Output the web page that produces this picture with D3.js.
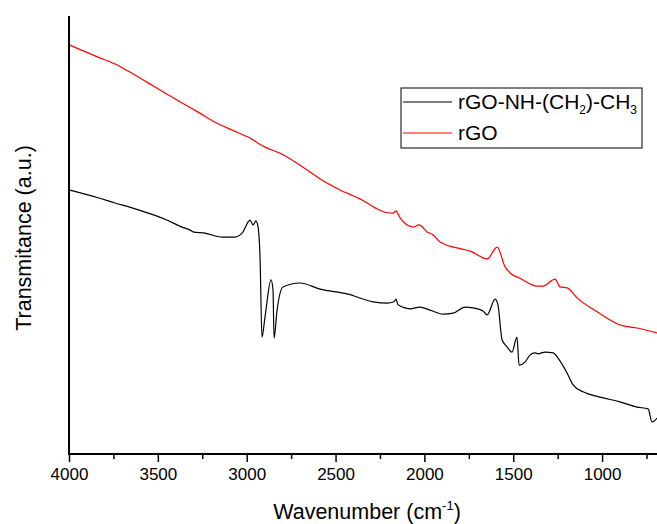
<!DOCTYPE html>
<html><head><meta charset="utf-8">
<script src="https://cdn.jsdelivr.net/npm/d3@7"></script>
<style>body{margin:0;background:#fff}svg{display:block}text{font-family:"Liberation Sans",Arial,sans-serif}</style>
</head><body><svg id="c" width="657" height="524"></svg>
<script>
const xTicks = [4000, 3500, 3000, 2500, 2000, 1500, 1000];
const xMinorTicks = [3750, 3250, 2750, 2250, 1750, 1250, 750];
const seriesNames = ["rGO-NH-(CH2)-CH3", "rGO"];
const seriesColors = ["#000000", "#ff0000"];

const rGOWave = [4000,3837,3741,3668,3555,3460,3364,3274,3178,3083,2993,2897,2812,2683,2587,2475,2351,2278,2222,2177,2160,2137,2064,2030,1985,1951,1912,1771,1743,1647,1591,1546,1518,1462,1366,1332,1265,1237,1197,1141,1028,899,803,691];
const rGOVal  = [93.4,90.6,89.0,87.4,84.7,82.4,80.1,78.0,75.7,73.9,72.3,70.0,68.6,65.4,62.7,60.2,57.9,56.1,55.1,54.9,55.4,53.8,51.7,52.2,50.6,49.9,48.3,46.5,46.2,44.4,47.1,42.6,41.2,40.0,38.2,38.2,39.8,38.0,37.8,35.5,32.3,29.3,28.6,27.5];

const amineWave = [4000,3837,3741,3645,3555,3460,3364,3319,3302,3235,3139,3066,3026,2981,2964,2948,2936,2925,2914,2897,2863,2852,2846,2829,2796,2700,2587,2435,2289,2210,2171,2160,2148,2081,2025,1968,1895,1839,1771,1726,1670,1647,1602,1586,1563,1535,1507,1479,1467,1434,1406,1377,1360,1321,1276,1248,1197,1163,1107,1012,899,803,741,719,691];
const amineVal  = [60.2,58.4,57.2,56.1,54.9,53.5,51.7,51.0,50.6,50.3,49.4,49.4,50.3,53.3,52.2,53.1,51.7,44.9,26.5,31.1,39.6,37.3,26.3,32.7,38.0,38.9,37.5,36.4,34.6,34.3,34.6,35.2,33.9,33.0,33.4,32.7,31.8,32.0,33.4,33.2,32.5,31.6,35.2,33.9,25.9,24.3,23.1,26.5,20.1,20.8,22.4,22.9,22.7,23.1,22.9,21.7,18.3,15.6,14.0,12.8,11.7,10.5,10.1,7.1,8.0];

const svg = d3.select("#c");
const L = 69, R = 657, T = 16, B = 454;
const x = d3.scaleLinear().domain([4000, 691]).range([L, R]);
const y = d3.scaleLinear().domain([0, 100]).range([453, T]);

const mk = (w, v) => w.map((d, i) => [d, v[i]]);
const series = [mk(amineWave, amineVal), mk(rGOWave, rGOVal)];
const line = d3.line().x(d => x(d[0])).y(d => y(d[1])).curve(d3.curveMonotoneX);

series.forEach((s, i) => {
  svg.append("path").attr("d", line(s)).attr("fill", "none")
    .attr("stroke", seriesColors[i]).attr("stroke-width", 1.2).attr("stroke-linejoin", "round");
});

// x axis
const gx = svg.append("g").attr("transform", `translate(0,${B})`);
gx.call(d3.axisBottom(x).tickValues(xTicks).tickSize(8).tickSizeOuter(0).tickPadding(6).tickFormat(d3.format("d")));
gx.select(".domain").remove();
gx.selectAll(".tick line").attr("stroke", "#000").attr("stroke-width", 1.5);
gx.selectAll(".tick text").attr("font-size", 17).attr("fill", "#000")
  .attr("font-family", '"Liberation Sans",Arial,sans-serif');
gx.append("g").call(d3.axisBottom(x).tickValues(xMinorTicks).tickSize(5).tickFormat(""))
  .call(g => { g.select(".domain").remove(); g.selectAll("line").attr("stroke", "#000").attr("stroke-width", 1.5); });
svg.append("line").attr("x1", L).attr("x2", R).attr("y1", B).attr("y2", B).attr("stroke", "#000").attr("stroke-width", 2);
svg.append("line").attr("x1", L).attr("x2", L).attr("y1", T).attr("y2", B + 1).attr("stroke", "#000").attr("stroke-width", 2);

// titles
const xt = svg.append("text").attr("x", 367).attr("y", 519).attr("text-anchor", "middle").attr("font-size", 21.5);
xt.append("tspan").text("Wavenumber (cm");
xt.append("tspan").attr("font-size", 13).attr("dy", -9).text("-1");
xt.append("tspan").attr("dy", 9).text(")");
svg.append("text").attr("transform", "translate(31,238) rotate(-90)").attr("text-anchor", "middle")
  .attr("font-size", 21.5).text("Transmitance (a.u.)");

// legend
const lg = svg.append("g");
lg.append("rect").attr("x", 401).attr("y", 88).attr("width", 241).attr("height", 60)
  .attr("fill", "#fff").attr("stroke", "#000").attr("stroke-width", 1);
const rows = [102, 133];
rows.forEach((ry, i) => {
  lg.append("line").attr("x1", 403).attr("x2", 452).attr("y1", ry).attr("y2", ry)
    .attr("stroke", seriesColors[i]).attr("stroke-width", 1.2);
});
const t1 = lg.append("text").attr("x", 458).attr("y", 109).attr("font-size", 21);
t1.append("tspan").text("rGO-NH-(CH");
t1.append("tspan").attr("font-size", 12).attr("dy", 5).text("2");
t1.append("tspan").attr("dy", -5).text(")-CH");
t1.append("tspan").attr("font-size", 12).attr("dy", 5).text("3");
lg.append("text").attr("x", 458).attr("y", 140).attr("font-size", 21).text(seriesNames[1]);
</script></body></html>
